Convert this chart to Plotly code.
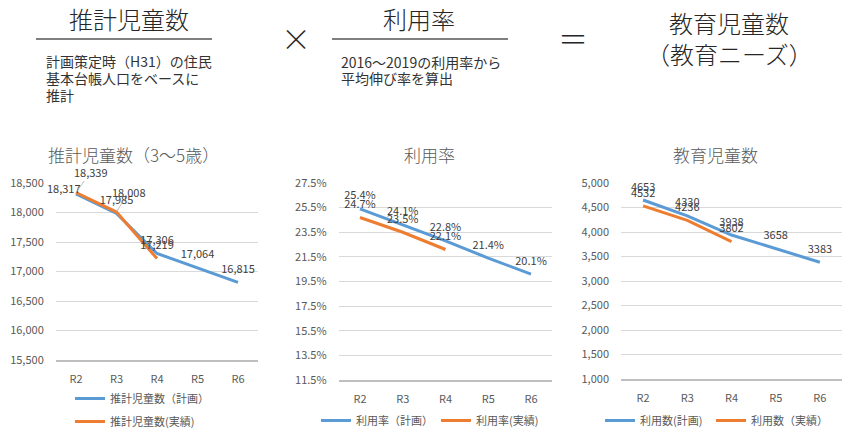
import plotly.graph_objects as go

W, H = 843, 429
FONT = "Noto Sans CJK JP"

cats = ["R2", "R3", "R4", "R5", "R6"]
cats_act = ["R2", "R3", "R4"]

# Chart 1: 推計児童数
pop_plan = [18317, 17985, 17306, 17064, 16815]
pop_act = [18339, 18008, 17219]
# Chart 2: 利用率 (%)
rate_plan = [25.4, 24.1, 22.8, 21.4, 20.1]
rate_act = [24.7, 23.5, 22.1]
# Chart 3: 教育児童数
edu_plan = [4653, 4330, 3938, 3658, 3383]
edu_act = [4532, 4236, 3802]

BLUE = "#5B9BD5"
ORANGE = "#ED7D31"
GRID = "#D9D9D9"
TXT = "#595959"
LBL = "#404040"


def px(x):
    return x / W


def py(y):
    return 1 - y / H


fig = go.Figure()

lbl_font = dict(family=FONT, size=11, color=LBL)


def series(x, y, name, color, xa, ya, leg, grp):
    fig.add_trace(go.Scatter(
        x=x, y=y, mode="lines", name=name, line=dict(color=color, width=3),
        xaxis=xa, yaxis=ya, legend=leg, legendgroup=grp, hoverinfo="skip"))


def labels(x, y, text, pos, xa, ya, sizes=9):
    fig.add_trace(go.Scatter(
        x=x, y=y, mode="markers+text", showlegend=False,
        marker=dict(size=sizes, opacity=0, color="white"),
        text=text, textposition=pos, textfont=lbl_font,
        xaxis=xa, yaxis=ya, cliponaxis=False, hoverinfo="skip"))


# Chart 1
series(cats, pop_plan, "推計児童数（計画）", BLUE, "x", "y", "legend", "a")
series(cats_act, pop_act, "推計児童数(実績)", ORANGE, "x", "y", "legend", "b")
labels(cats[1:], pop_plan[1:], [f"{v:,}" for v in pop_plan[1:]], "top center", "x", "y")
labels(cats_act[2:], pop_act[2:], [f"{v:,}" for v in pop_act[2:]], "top center", "x", "y")
fig.add_annotation(x=cats[0], y=pop_plan[0], xref="x", yref="y", text=f"{pop_plan[0]:,}",
                   showarrow=False, xanchor="center", yanchor="middle", xshift=-12, yshift=6,
                   font=lbl_font)
# Chart 2
series(cats, rate_plan, "利用率（計画）", BLUE, "x2", "y2", "legend2", "c")
series(cats_act, rate_act, "利用率(実績)", ORANGE, "x2", "y2", "legend2", "d")
labels(cats, rate_plan, [f"{v:.1f}%" for v in rate_plan], "top center", "x2", "y2")
labels(cats_act, rate_act, [f"{v:.1f}%" for v in rate_act], "top center", "x2", "y2")
# Chart 3
series(cats, edu_plan, "利用数(計画)", BLUE, "x3", "y3", "legend3", "e")
series(cats_act, edu_act, "利用数（実績）", ORANGE, "x3", "y3", "legend3", "f")
labels(cats, edu_plan, [str(v) for v in edu_plan], "top center", "x3", "y3")
labels(cats_act, edu_act, [str(v) for v in edu_act], "top center", "x3", "y3")

# leader-line labels for chart 1 orange R2, R3
for i, (ax_, ay_) in enumerate([(15, -21), (12, -20)]):
    fig.add_annotation(x=cats_act[i], y=pop_act[i], xref="x", yref="y",
                       text=f"{pop_act[i]:,}", showarrow=True, arrowhead=0,
                       arrowwidth=0.7, arrowcolor="#A6A6A6", ax=ax_, ay=ay_,
                       font=lbl_font)

tickfont = dict(family=FONT, size=11, color=TXT)


def xax(dom):
    return dict(domain=dom, type="category", range=[-0.5, 4.5], showgrid=False,
                showline=True, linecolor="#BFBFBF", linewidth=1.5, ticks="",
                tickfont=tickfont, ticklabelstandoff=8, zeroline=False, fixedrange=True)


def yax(dom, rng, dtick, anchor, **kw):
    d = dict(domain=dom, range=rng, dtick=dtick, tick0=rng[0], showgrid=True,
             gridcolor=GRID, gridwidth=1, showline=False, zeroline=False,
             tickfont=tickfont, ticks="", ticklabelstandoff=11, anchor=anchor,
             fixedrange=True)
    d.update(kw)
    return d


legfont = dict(family=FONT, size=11, color=TXT)
ytop = py(183)
fig.update_layout(
    width=W, height=H, margin=dict(l=0, r=0, t=0, b=0, autoexpand=False),
    paper_bgcolor="white", plot_bgcolor="white",
    font=dict(family=FONT, color=TXT),
    xaxis=dict(xax([px(55.75), px(258.25)]), anchor="y"),
    yaxis=yax([py(360), ytop], [15500, 18500], 500, "x", tickformat=","),
    xaxis2=dict(xax([px(338.6), px(552.4)]), anchor="y2"),
    yaxis2=yax([py(380), ytop], [11.5, 27.5], 2, "x2", tickformat=".1f", ticksuffix="%"),
    xaxis3=dict(xax([px(621), px(842)]), anchor="y3"),
    yaxis3=yax([py(379), ytop], [1000, 5000], 500, "x3", tickformat=","),
    legend=dict(x=px(70), y=py(384), xanchor="left", yanchor="top",
                orientation="v", font=legfont, bgcolor="rgba(0,0,0,0)", tracegroupgap=4),
    legend2=dict(x=px(316), y=py(406), xanchor="left", yanchor="top",
                 orientation="h", font=legfont, bgcolor="rgba(0,0,0,0)", entrywidth=75),
    legend3=dict(x=px(600), y=py(406), xanchor="left", yanchor="top",
                 orientation="h", font=legfont, bgcolor="rgba(0,0,0,0)", entrywidth=66),
    showlegend=True,
)

# Chart titles
for xc, t in [(133, "推計児童数（3〜5歳）"), (429, "利用率"), (715, "教育児童数")]:
    fig.add_annotation(x=px(xc), y=py(154), xref="paper", yref="paper", text=t,
                       showarrow=False, font=dict(family=FONT, size=17, color=TXT, weight=300),
                       xanchor="center", yanchor="middle")

HEAD = "#262626"
hfont = dict(family=FONT, size=24, color=HEAD, weight=300)
for xc, yc, t in [(129, 18, "推計児童数"), (419, 18, "利用率"),
                  (729, 22, "教育児童数"), (729, 53, "（教育ニーズ）")]:
    fig.add_annotation(x=px(xc), y=py(yc), xref="paper", yref="paper", text=t,
                       showarrow=False, font=hfont, xanchor="center", yanchor="middle")
fig.add_annotation(x=px(296), y=py(37), xref="paper", yref="paper", text="×",
                   showarrow=False, font=dict(family=FONT, size=30, color=HEAD, weight=300),
                   xanchor="center", yanchor="middle")
fig.add_annotation(x=px(573), y=py(37), xref="paper", yref="paper", text="＝",
                   showarrow=False, font=dict(family=FONT, size=30, color=HEAD, weight=300),
                   xanchor="center", yanchor="middle")

sub_font = dict(family=FONT, size=14, color="#333333")
for i, t in enumerate(["計画策定時（H31）の住民", "基本台帳人口をベースに", "推計"]):
    fig.add_annotation(x=px(44), y=py(61 + 17 * i), xref="paper", yref="paper", text=t,
                       showarrow=False, font=sub_font, xanchor="left", yanchor="middle")
for i, t in enumerate(["2016〜2019の利用率から", "平均伸び率を算出"]):
    fig.add_annotation(x=px(339), y=py(62 + 16 * i), xref="paper", yref="paper", text=t,
                       showarrow=False, font=sub_font, xanchor="left", yanchor="middle")

for x0, x1 in [(36, 212), (332, 508)]:
    fig.add_shape(type="line", xref="paper", yref="paper", x0=px(x0), x1=px(x1),
                  y0=py(39), y1=py(39), line=dict(color="#000000", width=1.2))

fig.write_html("out.html", config={"displayModeBar": False},
               post_script="document.body.style.margin='0';")
